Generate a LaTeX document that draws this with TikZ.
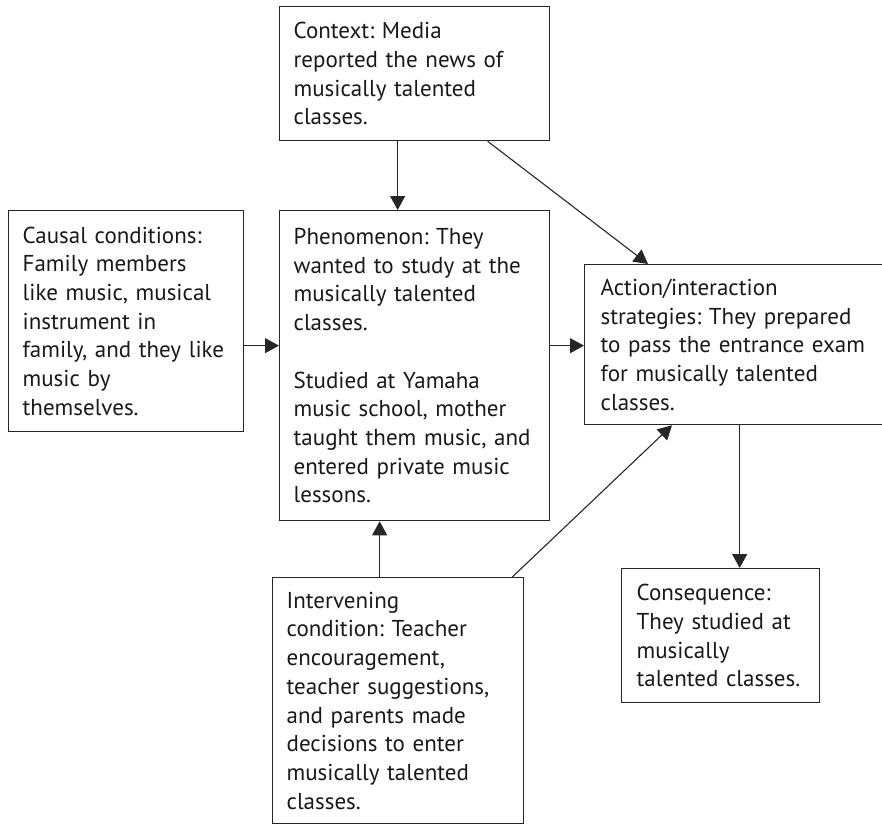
\documentclass[tikz,border=0pt]{standalone}
\usepackage{fontspec}
\setmainfont{PT Sans}
\usetikzlibrary{arrows.meta}
\begin{document}
\frenchspacing
\begin{tikzpicture}[x=1pt,y=-1pt,
  every node/.style={font=\fontsize{23}{28.7}\selectfont, text=black!90},
  box/.style={draw=black!85, line width=1.3pt, anchor=north west, align=left,
    inner xsep=14pt, inner ysep=0pt},
  arr/.style={draw=black!85, line width=1.1pt,
    -{Triangle[length=14pt,width=15pt]}}]
\useasboundingbox (0,0) rectangle (882,824);

% boxes: position = top-left corner, size set by text width and minimum height
\node[box, text width=242pt, minimum height=134pt] (ctx) at (279,6)
  {Context: Media\\reported the news of\\musically talented\\classes.};
\node[box, text width=207pt, minimum height=221pt] (caus) at (8,210)
  {Causal conditions:\\Family members\\like music, musical\\instrument in\\family, and they like\\music by\\themselves.};
\node[box, text width=242pt, minimum height=310pt] (phen) at (279,210)
  {Phenomenon: They\\wanted to study at the\\musically talented\\classes.\\[\baselineskip]Studied at Yamaha\\music school, mother\\taught them music, and\\entered private music\\lessons.};
\node[box, inner xsep=16pt, text width=279pt, minimum height=160pt] (act) at (584,264)
  {Action/interaction\\strategies: They prepared\\to pass the entrance exam\\for musically talented\\classes.};
\node[box, text width=223pt, minimum height=246pt] (int) at (272,577)
  {Intervening\\condition: Teacher\\encouragement,\\teacher suggestions,\\and parents made\\decisions to enter\\musically talented\\classes.};
\node[box, inner xsep=15pt, text width=168pt, minimum height=134pt] (cons) at (621,568)
  {Consequence:\\They studied at\\musically\\talented classes.};

% connectors
\draw[arr] ([xshift=-17pt]ctx.south) -- ([xshift=-17pt]phen.north);
\draw[arr] ([xshift=73pt]ctx.south) -- ([xshift=64pt]act.north west);
\draw[arr] ([yshift=-24.5pt]caus.east) -- ([yshift=-24.5pt]caus.east -| phen.west);
\draw[arr] ([yshift=20pt]phen.east) -- ([yshift=20pt]phen.east -| act.west);
\draw[arr] ([xshift=-18.5pt]int.north) -- ([xshift=-18.5pt]int.north |- phen.south);
\draw[arr] ([xshift=-12pt]int.north east) -- ([xshift=88pt]act.south west);
\draw[arr] ([xshift=19pt]cons.north |- act.south) -- ([xshift=19pt]cons.north);
\end{tikzpicture}
\end{document}
